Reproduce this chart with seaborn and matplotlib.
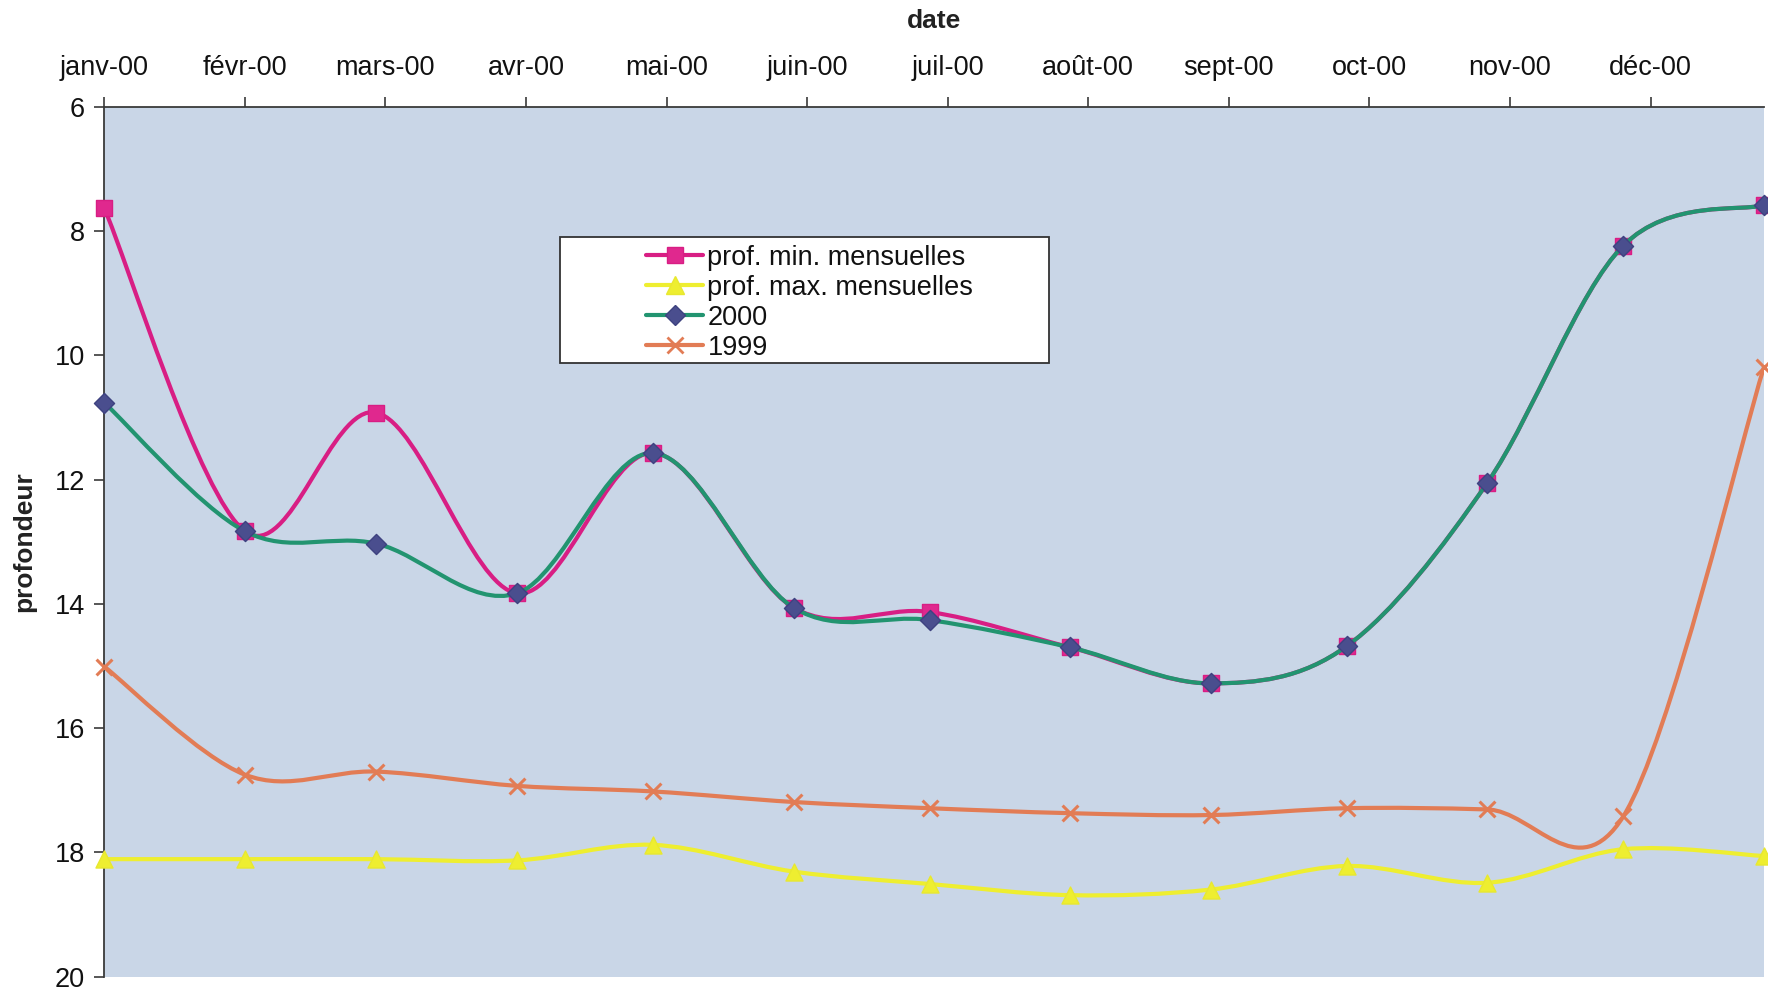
import numpy as np
import pandas as pd
import matplotlib
matplotlib.use("Agg")
import matplotlib.pyplot as plt
from matplotlib.path import Path
from matplotlib.patches import PathPatch, Rectangle
from matplotlib.lines import Line2D
import seaborn as sns

# Monthly readings, first day of each month from January 2000 to January 2001
measure_dates = pd.date_range("2000-01-01", "2001-01-01", freq="MS")

prof_min = [7.63, 12.83, 10.92, 13.83, 11.57, 14.06, 14.13, 14.70, 15.28, 14.68, 12.05, 8.23, 7.58]
prof_max = [18.11, 18.11, 18.11, 18.13, 17.88, 18.31, 18.51, 18.69, 18.60, 18.22, 18.49, 17.95, 18.06]
serie_2000 = [10.76, 12.83, 13.03, 13.83, 11.57, 14.06, 14.26, 14.70, 15.28, 14.68, 12.05, 8.23, 7.58]
serie_1999 = [15.01, 16.75, 16.70, 16.93, 17.02, 17.19, 17.29, 17.37, 17.40, 17.29, 17.31, 17.42, 10.19]

series_names = ["prof. min. mensuelles", "prof. max. mensuelles", "2000", "1999"]
month_labels = ["janv-00", "févr-00", "mars-00", "avr-00", "mai-00", "juin-00",
                "juil-00", "août-00", "sept-00", "oct-00", "nov-00", "déc-00"]
y_ticks = [6, 8, 10, 12, 14, 16, 18, 20]
tick_step_days = 31

sns.set_theme(style="white")
plt.rcParams["font.family"] = ["Liberation Sans", "DejaVu Sans"]

days = (measure_dates - measure_dates[0]).days.to_numpy()
tick_days = np.arange(len(month_labels)) * tick_step_days


def smooth_path(x, y):
    """Cubic Bezier path through the points (Catmull-Rom style smoothing)."""
    pts = np.column_stack([x, y]).astype(float)
    n = len(pts)
    verts = [pts[0]]
    codes = [Path.MOVETO]
    for i in range(n - 1):
        p0 = pts[max(i - 1, 0)]
        p1 = pts[i]
        p2 = pts[i + 1]
        p3 = pts[min(i + 2, n - 1)]
        verts += [p1 + (p2 - p0) / 6.0, p2 - (p3 - p1) / 6.0, p2]
        codes += [Path.CURVE4] * 3
    return Path(verts, codes)


styles = {
    "prof. min. mensuelles": dict(values=prof_min, line="#D81E84", marker="s", face="#E0288E",
                                  edge="#D81E84", size=120, z=3),
    "prof. max. mensuelles": dict(values=prof_max, line="#EEEE30", marker="^", face="#EEEE30",
                                  edge="#E8E830", size=150, z=3),
    "2000": dict(values=serie_2000, line="#229470", marker="D", face="#4A4E8E",
                 edge="#3E4280", size=105, z=4),
    "1999": dict(values=serie_1999, line="#E27C55", marker="x", face="#E27C55",
                 edge="#E27C55", size=130, z=4),
}

fig = plt.figure(figsize=(17.68, 9.92), dpi=100)
ax = fig.add_axes([0.059, 0.0156, 0.9387, 0.8765])
ax.set_facecolor("#C9D6E7")

handles = []
for name in series_names:
    st = styles[name]
    ax.add_patch(PathPatch(smooth_path(days, st["values"]), fill=False,
                           edgecolor=st["line"], lw=3.0, capstyle="round",
                           joinstyle="round", zorder=st["z"]))
    if st["marker"] == "x":
        sns.scatterplot(x=days, y=st["values"], marker="x", s=st["size"], color=st["line"],
                        linewidth=2.2, ax=ax, zorder=st["z"] + 0.5, clip_on=False, legend=False)
    else:
        sns.scatterplot(x=days, y=st["values"], marker=st["marker"], s=st["size"],
                        color=st["face"], edgecolor=st["edge"], linewidth=1.0, ax=ax,
                        zorder=st["z"] + 0.5, clip_on=False, legend=False)
    handles.append(Line2D([], [], color=st["line"], lw=3.0, marker=st["marker"],
                          markersize=np.sqrt(st["size"]), markerfacecolor=st["face"],
                          markeredgecolor=st["edge"], markeredgewidth=2.0 if st["marker"] == "x" else 1.0))

ax.set_xlim(0, days[-1])
ax.set_ylim(20, 6)
ax.set_yticks(y_ticks)
ax.set_yticklabels([str(v) for v in y_ticks])
ax.xaxis.tick_top()
ax.xaxis.set_label_position("top")
ax.set_xticks(tick_days)
ax.set_xticklabels(month_labels)

for side in ("right", "bottom"):
    ax.spines[side].set_visible(False)
for side in ("left", "top"):
    ax.spines[side].set_color("#3A3A3A")
    ax.spines[side].set_linewidth(1.3)

ax.tick_params(axis="x", which="major", top=True, bottom=False, direction="out",
               length=7, width=1.2, color="#3A3A3A", pad=12, labelsize=19.5, labelcolor="#111111")
ax.tick_params(axis="y", which="major", left=True, direction="out",
               length=7, width=1.2, color="#3A3A3A", pad=7, labelsize=19.5, labelcolor="#111111")

ax.set_xlabel("date", fontsize=19, fontweight="bold", labelpad=19, color="#222222")
ax.set_ylabel("profondeur", fontsize=19, fontweight="bold", labelpad=13, color="#222222")
ax.grid(False)

# legend box with white background
box = Rectangle((0.3167, 0.634), 0.2766, 0.127, transform=fig.transFigure,
                facecolor="white", edgecolor="#333333", lw=1.3, zorder=10)
fig.patches.append(box)
leg = fig.legend(handles, series_names, loc="upper left", bbox_to_anchor=(0.358, 0.767),
                 frameon=False, fontsize=19.5, borderpad=0, labelspacing=0.15,
                 handlelength=2.1, handletextpad=0.15)
leg.set_zorder(11)
for t in leg.get_texts():
    t.set_color("#111111")

fig.savefig("out.png", dpi=100)
